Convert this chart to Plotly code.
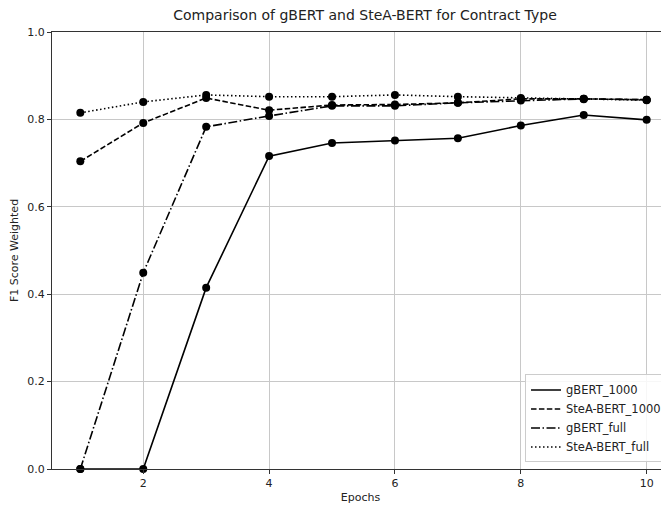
import plotly.graph_objects as go

epochs = [1, 2, 3, 4, 5, 6, 7, 8, 9, 10]
gbert_1000 = [0.0, 0.0, 0.415, 0.716, 0.746, 0.752, 0.757, 0.786, 0.810, 0.799]
stea_1000 = [0.704, 0.792, 0.849, 0.821, 0.833, 0.834, 0.838, 0.847, 0.847, 0.845]
gbert_full = [0.0, 0.449, 0.783, 0.808, 0.831, 0.831, 0.838, 0.843, 0.847, 0.845]
stea_full = [0.815, 0.840, 0.856, 0.852, 0.852, 0.856, 0.852, 0.849, 0.846, 0.844]

series = [
    ("gBERT_1000", gbert_1000, "solid"),
    ("SteA-BERT_1000", stea_1000, "5.5px,2.4px"),
    ("gBERT_full", gbert_full, "9px,2.5px,1.5px,2.5px"),
    ("SteA-BERT_full", stea_full, "1.5px,2.5px"),
]

# the page body has an 8px default margin, so the figure is sized/offset to fit the window
W, H = 661, 497
FONT = "DejaVu Sans"
fig = go.Figure()
for name, vals, dash in series:
    fig.add_trace(go.Scatter(
        x=epochs, y=vals, mode="lines", name=name,
        line=dict(color="black", width=1.6, dash=dash),
        cliponaxis=False,
    ))
for name, vals, dash in series:
    fig.add_trace(go.Scatter(
        x=epochs, y=vals, mode="markers", showlegend=False,
        marker=dict(color="black", size=8, symbol="circle"),
        cliponaxis=False,
    ))

fig.update_layout(
    width=W, height=H,
    margin=dict(l=44, r=0, t=24, b=36),
    plot_bgcolor="white", paper_bgcolor="white",
    font=dict(family=FONT, size=11, color="#222"),
    title=dict(text="Comparison of gBERT and SteA-BERT for Contract Type",
               x=357 / W, xanchor="center", y=1 - 7.5 / H, yanchor="middle",
               font=dict(size=14, color="#222", family=FONT)),
    legend=dict(x=0.9968, xanchor="right", y=0.015, yanchor="bottom",
                bgcolor="rgba(255,255,255,0.85)", bordercolor="#cccccc", borderwidth=1,
                font=dict(size=11.5, family=FONT, color="#222"), tracegroupgap=0),
    showlegend=True,
)
fig.update_xaxes(
    range=[0.55, 10.355], tickmode="array", tickvals=[2, 4, 6, 8, 10],
    showgrid=True, gridcolor="#c8c8c8", gridwidth=1,
    showline=True, linecolor="#333", linewidth=1, mirror=True,
    ticks="outside", ticklen=4, tickcolor="#333",
    zeroline=False,
    title=dict(text="Epochs", standoff=4, font=dict(size=11)),
)
fig.update_yaxes(
    range=[0, 1.0], tickmode="array", tickvals=[0, 0.2, 0.4, 0.6, 0.8, 1.0],
    ticktext=["0.0", "0.2", "0.4", "0.6", "0.8", "1.0"],
    showgrid=True, gridcolor="#c8c8c8", gridwidth=1,
    showline=True, linecolor="#333", linewidth=1, mirror=False,
    ticks="outside", ticklen=4, tickcolor="#333",
    zeroline=False,
    title=dict(text="F1 Score Weighted", standoff=6, font=dict(size=11)),
)

fig.write_html("out.html")
